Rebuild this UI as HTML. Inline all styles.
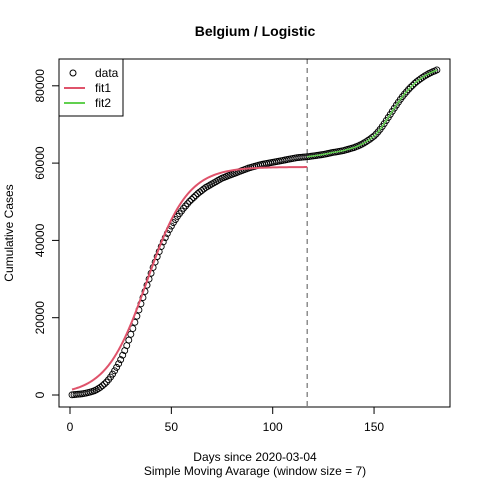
<!DOCTYPE html>
<html><head><meta charset="utf-8"><style>
body{margin:0;background:#fff}
svg text{font-family:"Liberation Sans",Arial,sans-serif;fill:#000}
</style></head><body>
<svg width="480" height="480" xmlns="http://www.w3.org/2000/svg">
<text x="255" y="36" text-anchor="middle" font-size="14" font-weight="bold">Belgium / Logistic</text>
<g id="plot"></g>
<rect x="59" y="59" width="391" height="348" fill="none" stroke="#000"/>
<g>
<rect x="59" y="59" width="64" height="57" fill="#fff" stroke="#000"/>
<circle cx="73" cy="73" r="3" fill="none" stroke="#000"/>
<text x="95" y="77" font-size="12">data</text>
<line x1="64" y1="88" x2="85" y2="88" stroke="#DF536B" stroke-width="2"/>
<text x="95" y="92" font-size="12">fit1</text>
<line x1="64" y1="103" x2="85" y2="103" stroke="#61D04F" stroke-width="2"/>
<text x="95" y="107" font-size="12">fit2</text>
</g>
<text x="255" y="461" text-anchor="middle" font-size="12">Days since 2020-03-04</text>
<text x="255" y="475" text-anchor="middle" font-size="12">Simple Moving Avarage (window size = 7)</text>
<text transform="translate(13,233) rotate(-90)" text-anchor="middle" font-size="12">Cumulative Cases</text>
</svg>
<script>
const xTicks=[0,50,100,150];
const yTicks=[0,20000,40000,60000,80000];
const data=[50,100,150,200,250,320,400,500,620,760,
920,1100,1350,1650,2000,2400,2850,3350,3950,4650,
5400,6250,7150,8100,9150,10300,11500,12800,14200,15700,
17200,18800,20400,22000,23600,25200,26800,28400,30000,31500,
33000,34400,35800,37100,38400,39600,40700,41800,42800,43700,
44600,45400,46200,46900,47600,48300,48900,49500,50100,50600,
51100,51600,52100,52500,52900,53300,53700,54000,54300,54600,
54900,55200,55500,55800,56100,56300,56500,56700,56900,57100,
57300,57500,57700,57900,58100,58300,58500,58700,58850,59000,
59150,59300,59450,59600,59700,59800,59900,60000,60100,60200,
60300,60400,60500,60600,60700,60800,60900,61000,61100,61200,
61300,61400,61450,61500,61550,61600,61650,61700,61780,61850,
61920,62000,62080,62160,62250,62350,62450,62560,62680,62800,
62850,62950,63050,63150,63250,63400,63550,63700,63850,64000,
64200,64400,64650,64900,65200,65500,65850,66200,66600,67000,
67500,68100,68750,69450,70200,71000,71800,72600,73400,74200,
75000,75750,76500,77200,77850,78450,79050,79600,80100,80600,
81050,81450,81850,82200,82550,82850,83150,83400,83650,83850,84100];
const fit1Params=[59000,0.1,38]; // K, r, midpoint
const fit1Range=[1,117];
const fit2Range=[117,181];
const cutDay=117;
const X=d=>70+d*2.027;
const Y=v=>395-v*77.3/20000;
const g=document.getElementById('plot');
const NS='http://www.w3.org/2000/svg';
function mk(t,a){const e=document.createElementNS(NS,t);for(const k in a)e.setAttribute(k,a[k]);g.appendChild(e);return e;}
xTicks.forEach(t=>{
 const l=mk('line',{x1:X(t),x2:X(t),y1:407,y2:414,stroke:'#000'});
 
 
 const s=mk('text',{x:X(t),y:431,'text-anchor':'middle','font-size':12});s.textContent=t;
 
 
});
mk('line',{x1:X(0),x2:X(150),y1:407,y2:407,stroke:'#000'});
yTicks.forEach(t=>{
 const l=mk('line',{x1:52,x2:59,y1:Y(t),y2:Y(t),stroke:'#000'});
 
 
 const s=mk('text',{transform:`translate(44,${Y(t)}) rotate(-90)`,'text-anchor':'middle','font-size':12});s.textContent=t;
 
 
});
const vl=mk('line',{x1:X(cutDay),x2:X(cutDay),y1:59,y2:407,stroke:'#555','stroke-dasharray':'5,4'});


data.forEach((v,i)=>{
 const c=mk('circle',{cx:X(i+1),cy:Y(v),r:3,fill:'none',stroke:'#000','stroke-width':0.9});
 
 
});
let p=[];
for(let d=fit1Range[0];d<=fit1Range[1];d++){const v=fit1Params[0]/(1+Math.exp(-fit1Params[1]*(d-fit1Params[2])));p.push(X(d)+','+Y(v));}
const f1=mk('polyline',{points:p.join(' '),fill:'none',stroke:'#DF536B','stroke-width':2});


p=[];
for(let d=fit2Range[0];d<=fit2Range[1];d++){p.push(X(d)+','+Y(data[d-1]));}
const f2=mk('polyline',{points:p.join(' '),fill:'none',stroke:'#61D04F','stroke-width':1.5});


</script>
</body></html>
